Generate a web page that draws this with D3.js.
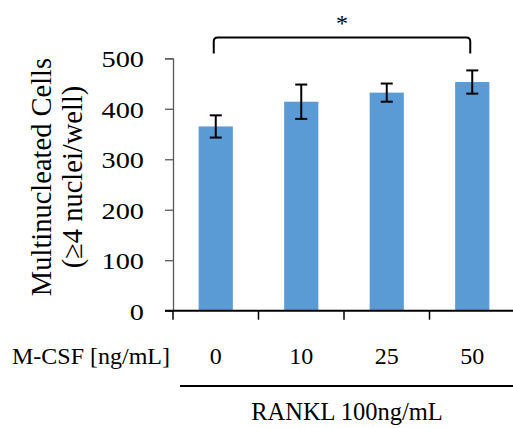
<!DOCTYPE html>
<html>
<head>
<meta charset="utf-8">
<script src="https://cdn.jsdelivr.net/npm/d3@7"></script>
<style>
  body { margin: 0; background: #fff; }
  text { font-family: "Liberation Serif", "Times New Roman", serif; fill: #000; }
</style>
</head>
<body>
<svg id="chart" width="513" height="428"></svg>
<script>
// data
var doses = ["0", "10", "25", "50"];
var means = [365, 414, 432, 453];
var errs = [22, 34, 18, 23];
var yTicks = [0, 100, 200, 300, 400, 500];

var svg = d3.select("#chart");
var mLeft = 173, mRight = 515, mTop = 58.3, mBottom = 310.7;

var x = d3.scaleBand().domain(doses).range([mLeft, mRight]).paddingInner(0).paddingOuter(0);
var y = d3.scaleLinear().domain([0, 500]).range([mBottom, mTop]);
var barW = x.bandwidth() * 0.4;

// bars
svg.selectAll("rect.bar").data(doses).enter().append("rect")
  .attr("class", "bar")
  .attr("x", function (d) { return x(d) + x.bandwidth() / 2 - barW / 2; })
  .attr("y", function (d, i) { return y(means[i]); })
  .attr("width", barW)
  .attr("height", function (d, i) { return mBottom - y(means[i]); })
  .attr("fill", "#5b9bd5");

// y axis
var yAxis = d3.axisLeft(y).tickValues(yTicks).tickSize(8).tickPadding(0);
var gy = svg.append("g").attr("transform", "translate(" + mLeft + ",0)").call(yAxis);
gy.select(".domain").attr("stroke", "#595959").attr("stroke-width", 1.3);
gy.selectAll(".tick line").attr("stroke", "#595959").attr("stroke-width", 1.3);
gy.selectAll(".tick text")
  .attr("x", 0).attr("dy", "0.35em")
  .attr("transform", "translate(-29,0) scale(1.18,1)")
  .style("font-size", "24px");

// x axis (ticks at band edges)
var gx = svg.append("g").attr("transform", "translate(0," + mBottom + ")");
gx.append("line").attr("x1", mLeft - 8).attr("x2", mRight).attr("y1", 0).attr("y2", 0)
  .attr("stroke", "#000").attr("stroke-width", 2);
gx.selectAll("line.tk").data(doses).enter().append("line")
  .attr("class", "tk")
  .attr("x1", function (d) { return x(d); }).attr("x2", function (d) { return x(d); })
  .attr("y1", 0).attr("y2", 9)
  .attr("stroke", "#000").attr("stroke-width", 1.5);

// error bars
var eb = svg.selectAll("g.err").data(doses).enter().append("g").attr("class", "err");
eb.append("line")
  .attr("x1", function (d) { return x(d) + x.bandwidth() / 2; })
  .attr("x2", function (d) { return x(d) + x.bandwidth() / 2; })
  .attr("y1", function (d, i) { return y(means[i] + errs[i]); })
  .attr("y2", function (d, i) { return y(means[i] - errs[i]); });
[1, -1].forEach(function (s) {
  eb.append("line")
    .attr("x1", function (d) { return x(d) + x.bandwidth() / 2 - 6; })
    .attr("x2", function (d) { return x(d) + x.bandwidth() / 2 + 6; })
    .attr("y1", function (d, i) { return y(means[i] + s * errs[i]); })
    .attr("y2", function (d, i) { return y(means[i] + s * errs[i]); });
});
eb.selectAll("line").attr("stroke", "#000").attr("stroke-width", 2);

// category labels
svg.selectAll("text.cat").data(doses).enter().append("text")
  .attr("class", "cat")
  .attr("x", function (d) { return x(d) + x.bandwidth() / 2; })
  .attr("y", 364)
  .attr("text-anchor", "middle")
  .style("font-size", "24px")
  .text(function (d) { return d; });

svg.append("text").attr("x", 12).attr("y", 364).style("font-size", "24px").text("M-CSF [ng/mL]");

svg.append("line").attr("x1", 180).attr("x2", 513).attr("y1", 386).attr("y2", 386)
  .attr("stroke", "#000").attr("stroke-width", 2);
svg.append("text").attr("x", 347).attr("y", 420).attr("text-anchor", "middle")
  .style("font-size", "24.5px").text("RANKL 100ng/mL");

// y label
var yl = svg.append("text").attr("transform", "translate(51,177) rotate(-90)")
  .attr("text-anchor", "middle").style("font-size", "28.5px");
yl.append("tspan").attr("x", 0).attr("dy", 0).text("Multinucleated Cells");
yl.append("tspan").attr("x", 0).attr("dy", 31).text("(\u22654 nuclei/well)");

// significance bracket between first and last bar
var x0 = x(doses[0]) + x.bandwidth() / 2 - 2, x1 = x(doses[3]) + x.bandwidth() / 2 - 2;
var by = 37.5, bl = 53.5, r = 4;
svg.append("path")
  .attr("d", "M" + x0 + "," + bl + " L" + x0 + "," + (by + r) + " Q" + x0 + "," + by + " " + (x0 + r) + "," + by +
    " L" + (x1 - r) + "," + by + " Q" + x1 + "," + by + " " + x1 + "," + (by + r) + " L" + x1 + "," + bl)
  .attr("fill", "none").attr("stroke", "#000").attr("stroke-width", 2);
svg.append("text").attr("x", (x0 + x1) / 2).attr("y", 31).attr("text-anchor", "middle")
  .style("font-size", "24px").text("*");
</script>
</body>
</html>
